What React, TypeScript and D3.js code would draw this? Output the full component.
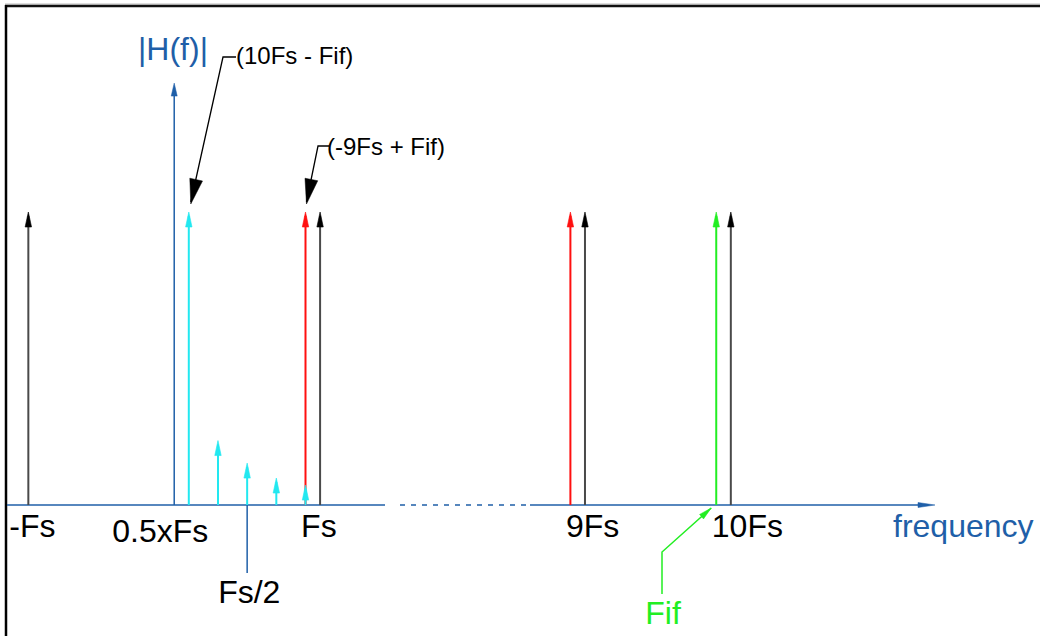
import React from "react";
import * as d3 from "d3";

// ---- data ----
const imageFreqs = [-1, 1, 9, 10]; // sample images (black), in units of Fs
const imageAmps = [1, 1, 1, 1];
const aliasFreqs = [0.1]; // (10Fs - Fif) alias, cyan
const aliasAmps = [1];
const harmonicFreqs = [0.3, 0.5, 0.7, 0.9]; // cyan small components
const harmonicAmps = [0.22, 0.143, 0.092, 0.068];
const mirrorFreqs = [0.9, 8.9]; // red
const mirrorAmps = [1, 1];
const fifFreqs = [9.9]; // green
const fifAmps = [1];
const tickFreqs = [-1, 1, 9, 10];
const tickLabels = ["-Fs", "Fs", "9Fs", "10Fs"];
const axisBreak = [1.445, 8.623];
const yAxisTop = 1.44;

const W = 1040;
const H = 636;
const BLUE = "#1f5fa8";
const CYAN = "#22e8f0";
const RED = "#ff1010";
const GREEN = "#22ee22";
const DARK = "#4a4a4a";
const FONT = "'Liberation Sans', Arial, sans-serif";

const x = d3
  .scaleLinear()
  .domain([-1.16, axisBreak[0], axisBreak[1], 11.4])
  .range([5, 385, 530, 935]);
const y = d3.scaleLinear().domain([0, 1]).range([505, 212]);

function Stem({ f, a, color, head }: { f: number; a: number; color: string; head: string }) {
  const px = x(f);
  const top = y(a);
  const arrow = d3.line()([
    [px, top],
    [px - 3.2, top + 15],
    [px + 3.2, top + 15],
  ]) + "Z";
  return (
    <g>
      <line x1={px} x2={px} y1={y(0)} y2={top + 4} stroke={color} strokeWidth={2} />
      <path d={arrow} fill={head} stroke={head} strokeWidth={0.6} />
    </g>
  );
}

function ArrowHead({ x1, y1, x2, y2, len, half, color }: any) {
  const dx = x2 - x1, dy = y2 - y1;
  const L = Math.hypot(dx, dy);
  const ux = dx / L, uy = dy / L;
  const bx = x2 - ux * len, by = y2 - uy * len;
  const pts: [number, number][] = [
    [x2, y2],
    [bx - uy * half, by + ux * half],
    [bx + uy * half, by - ux * half],
  ];
  return <path d={d3.line()(pts) + "Z"} fill={color} stroke={color} strokeWidth={0.5} />;
}

export default function App() {
  const y0 = y(0);
  return (
    <svg width={W} height={H} style={{ position: "absolute", left: 0, top: 0, background: "#fff" }} fontFamily={FONT}>
      {/* frame */}
      <line x1={5} x2={W} y1={4} y2={4} stroke="#bbb" strokeWidth={1} />
      <line x1={5} x2={W} y1={6} y2={6} stroke="#111" strokeWidth={2.5} />
      <line x1={6} x2={6} y1={5} y2={H} stroke="#000" strokeWidth={2.5} />

      {/* x axis: solid, dashed break, solid */}
      <line x1={7} x2={x(axisBreak[0])} y1={y0} y2={y0} stroke={BLUE} strokeWidth={1.5} />
      <line x1={x(axisBreak[0]) + 15} x2={x(axisBreak[1])} y1={y0} y2={y0} stroke={BLUE} strokeWidth={1.5} strokeDasharray="5,6" />
      <line x1={x(axisBreak[1])} x2={920} y1={y0} y2={y0} stroke={BLUE} strokeWidth={1.5} />
      <ArrowHead x1={900} y1={y0} x2={935} y2={y0} len={17} half={2.5} color={BLUE} />
      <text x={893} y={537} fontSize={32} fill={BLUE}>frequency</text>

      {/* y axis */}
      <line x1={x(0)} x2={x(0)} y1={y0} y2={y(yAxisTop) + 6} stroke={BLUE} strokeWidth={1.5} />
      <ArrowHead x1={x(0)} y1={y0} x2={x(0)} y2={y(yAxisTop)} len={13} half={3} color={BLUE} />
      <text x={138} y={60} fontSize={32} fill={BLUE}>|H(f)|</text>

      {/* spectral lines */}
      {mirrorFreqs.map((f, i) => <Stem key={"m" + i} f={f} a={mirrorAmps[i]} color={RED} head={RED} />)}
      {imageFreqs.map((f, i) => <Stem key={"b" + i} f={f} a={imageAmps[i]} color={DARK} head="#000" />)}
      {aliasFreqs.map((f, i) => <Stem key={"a" + i} f={f} a={aliasAmps[i]} color={CYAN} head={CYAN} />)}
      {harmonicFreqs.map((f, i) => <Stem key={"h" + i} f={f} a={harmonicAmps[i]} color={CYAN} head={CYAN} />)}
      {fifFreqs.map((f, i) => <Stem key={"g" + i} f={f} a={fifAmps[i]} color={GREEN} head={GREEN} />)}

      {/* tick labels */}
      {tickFreqs.map((f, i) => (
        <text key={"t" + i} x={x(f) - 19} y={537} fontSize={32} fill="#000">{tickLabels[i]}</text>
      ))}
      <text x={x(0) - 62} y={542} fontSize={32} fill="#000">0.5xFs</text>
      <line x1={x(0.5)} x2={x(0.5)} y1={y0} y2={573} stroke={BLUE} strokeWidth={1.5} />
      <text x={x(0.5) - 29} y={603} fontSize={32} fill="#000">Fs/2</text>

      {/* annotation (10Fs - Fif) */}
      <polyline points={`236,57 223,57 ${x(0.1) + 2},${y(1) - 10}`} fill="none" stroke="#000" strokeWidth={1.3} />
      <ArrowHead x1={223} y1={57} x2={x(0.1) + 2} y2={y(1) - 8} len={25} half={6.5} color="#000" />
      <text x={236} y={64} fontSize={24} fill="#000">(10Fs - Fif)</text>

      {/* annotation (-9Fs + Fif) */}
      <polyline points={`329,146 318,146 ${x(0.9) + 1},${y(1) - 10}`} fill="none" stroke="#000" strokeWidth={1.3} />
      <ArrowHead x1={318} y1={146} x2={x(0.9) + 1} y2={y(1) - 8} len={25} half={6.5} color="#000" />
      <text x={327} y={155} fontSize={24} fill="#000">(-9Fs + Fif)</text>

      {/* Fif leader */}
      <polyline points={`662,594 662,552 ${x(9.9) - 5},${y0 + 3}`} fill="none" stroke={GREEN} strokeWidth={1.5} />
      <ArrowHead x1={662} y1={552} x2={x(9.9) - 5} y2={y0 + 3} len={13} half={3} color={GREEN} />
      <text x={x(9.9) - 71} y={624} fontSize={32} fill={GREEN}>Fif</text>
    </svg>
  );
}
